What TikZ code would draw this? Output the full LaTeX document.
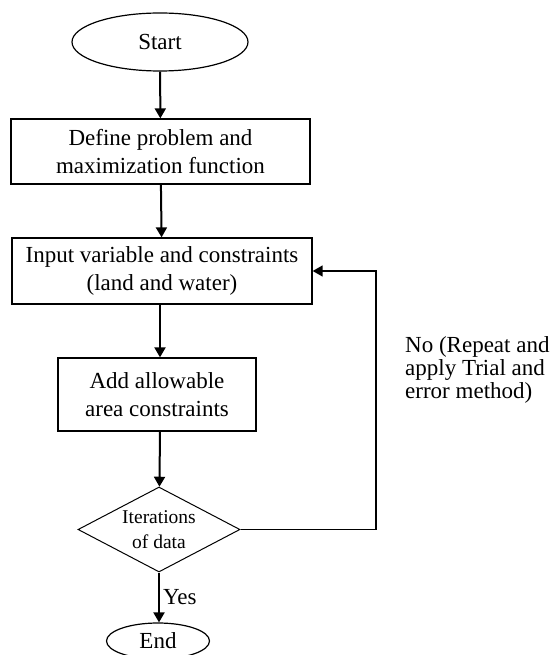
\documentclass[tikz,border=0pt]{standalone}
\usepackage{fontspec}
\setmainfont{Liberation Serif}
\usetikzlibrary{arrows.meta,shapes.geometric}

\begin{document}
\begin{tikzpicture}[
    x=1pt, y=1pt, font=\fontsize{23}{27.5}\selectfont,
    box/.style={draw, line width=1.3pt, align=center, inner sep=0pt},
    term/.style={ellipse, draw, line width=1.2pt, inner sep=0pt},
    decide/.style={diamond, draw, line width=1pt, align=center, inner sep=-3pt, aspect=1.9,
      font=\fontsize{19.5}{25}\selectfont},
    link/.style={-{Triangle[length=10pt,width=11pt]}, line width=2pt},
    back/.style={-{Triangle[length=10pt,width=11pt]}, line width=1.4pt},
    note/.style={align=left, inner sep=0pt, font=\fontsize{23}{23}\selectfont},
  ]
  \useasboundingbox (0,0) rectangle (553,-655);

  \node[term, minimum width=176, minimum height=58] (start) at (160,-42) {Start};
  \node[box, minimum width=299, minimum height=65] (define) at (160.5,-151.5) {Define problem and\\ maximization function};
  \node[box, minimum width=300, minimum height=66] (input) at (162,-271) {Input variable and constraints\\ (land and water)};
  \node[box, minimum width=198, minimum height=73] (allow) at (157,-394.5) {Add allowable\\ area constraints};
  \node[decide, minimum width=162, minimum height=85] (iter) at (159,-529.5) {Iterations\\ of data};
  \node[term, minimum width=103, minimum height=36, text depth=0pt] (stop) at (158,-641) {End};
  \coordinate (loop) at (376,-271);

  \draw[link] (start) -- (define);
  \draw[link] (define) -- (input);
  \draw[link] (input.south -| start) -- (allow.north -| start);
  \draw[link] (allow.south -| start) -- (iter);
  \draw[link] (iter) -- node[right=3pt, inner sep=0pt]{Yes} (stop.north -| iter);
  \draw[back] (iter.east) -| (loop) -- (input.east);

  \node[note, anchor=west] (no) at (405,-370) {No (Repeat and\\ apply Trial and\\ error method)};
\end{tikzpicture}
\end{document}
